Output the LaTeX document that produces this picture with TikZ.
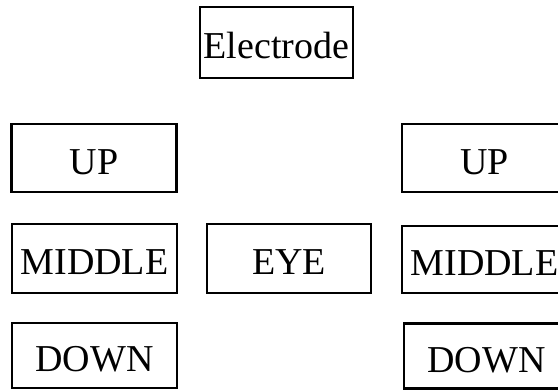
\documentclass[tikz,border=0pt]{standalone}
\usepackage{fontspec}
\setmainfont{Liberation Serif}
\begin{document}
\begin{tikzpicture}[x=1pt,y=-1pt,
  box/.style={draw=black,line width=2.4pt,minimum width=165pt,minimum height=68pt,inner sep=0pt,
    font=\fontsize{38}{40}\selectfont,text height=32pt,text depth=0pt}]
\clip (0,0) rectangle (558,389);
\useasboundingbox (0,0) rectangle (558,389);
\node[box,minimum width=153pt,minimum height=71pt] (el) at (276.5,42.5) {Electrode};
\node[box] (upl) at (94,158) {UP};
\node[box,minimum height=69pt] (midl) at (94.5,258.5) {MIDDLE};
\node[box,minimum height=65pt] (downl) at (94.5,355.5) {DOWN};
\node[box,minimum width=164pt,minimum height=69pt] (eye) at (289,258.5) {EYE};
\node[box] (upr) at (484.5,158) {UP};
\node[box,minimum height=67pt] (midr) at (484.5,259.5) {MIDDLE};
\node[box,minimum height=65pt] (downr) at (486.5,356) {DOWN};
\end{tikzpicture}
\end{document}
